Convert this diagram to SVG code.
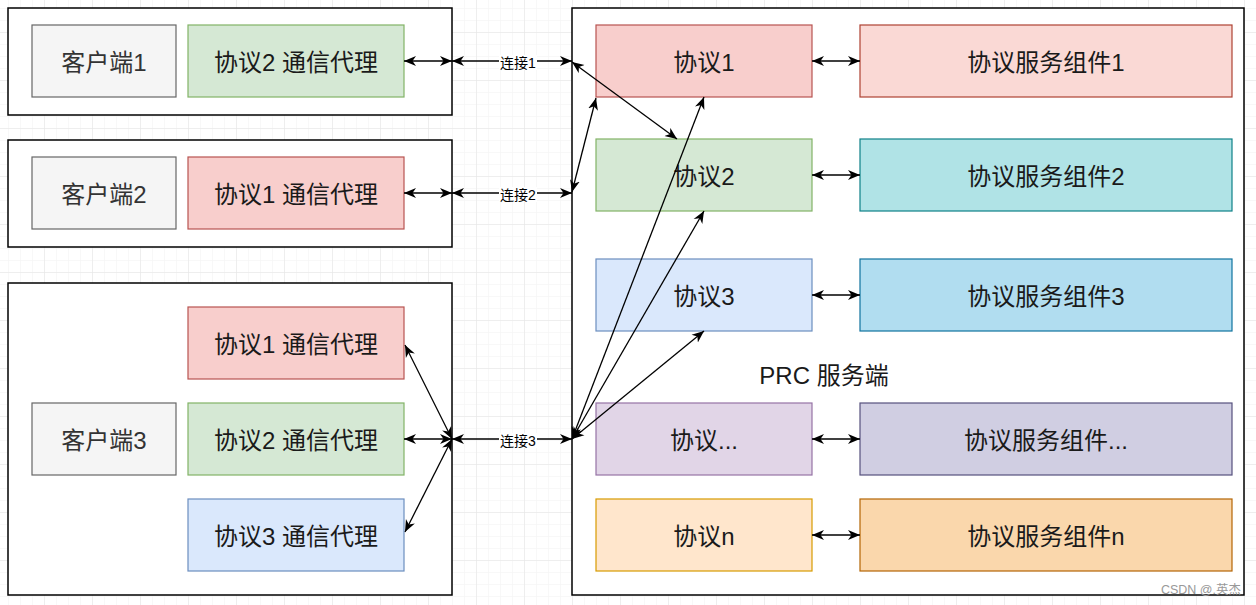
<svg xmlns="http://www.w3.org/2000/svg" width="1256" height="605" viewBox="0 0 1256 605">
<style>
text{font-family:"Liberation Sans","Noto Sans CJK SC",sans-serif;}
.t{font-size:24px;fill:#1a1a1a;text-anchor:middle;}
.tc{font-size:24px;fill:#333333;text-anchor:middle;}
.lb{font-size:14px;fill:#000;text-anchor:middle;}
.cont{fill:#ffffff;stroke:#000000;stroke-width:1.5;}
.cl{fill:#f5f5f5;stroke:#666666;stroke-width:1.2;}
.c{fill:none;stroke:#000000;stroke-width:1.3;marker-start:url(#ah);marker-end:url(#ah);}
</style>
<defs>
<pattern id="gmin" width="12" height="12" patternUnits="userSpaceOnUse" x="8" y="8">
<path d="M0,0 H12 M0,0 V12" fill="none" stroke="#f2f2f2" stroke-width="1"/>
</pattern>
<pattern id="gmaj" width="48" height="48" patternUnits="userSpaceOnUse" x="44" y="32">
<path d="M0,0 H48 M0,0 V48" fill="none" stroke="#e3e3e3" stroke-width="1"/>
</pattern>
<marker id="ah" viewBox="0 0 12 12" refX="12" refY="6" markerWidth="12" markerHeight="12" markerUnits="userSpaceOnUse" orient="auto-start-reverse">
<path d="M0,1 L12,6 L0,11 L3.5,6 Z" fill="#000000"/>
</marker>
</defs>
<rect width="1256" height="605" fill="#ffffff"/>
<rect width="1256" height="605" fill="url(#gmin)"/>
<rect width="1256" height="605" fill="url(#gmaj)"/>

<g id="client-box-1">
<rect class="cont" x="8" y="8" width="444" height="107"/>
</g>
<g id="client-box-2">
<rect class="cont" x="8" y="140" width="444" height="107"/>
</g>
<g id="client-box-3">
<rect class="cont" x="8" y="283" width="444" height="312"/>
</g>
<g id="server-box">
<rect class="cont" x="572" y="8" width="672" height="587"/>
<text x="824" y="384" style="font-size:24px;fill:#1a1a1a;text-anchor:middle;">PRC 服务端</text>
</g>

<g id="client1">
<rect class="cl" x="32" y="25" width="144" height="72"/>
<text class="tc" x="104" y="71">客户端1</text>
</g>
<g id="agent1">
<rect x="188" y="25" width="216" height="72" fill="#d5e8d4" stroke="#82b366" stroke-width="1.2"/>
<text class="t" x="296" y="71">协议2 通信代理</text>
</g>
<g id="client2">
<rect class="cl" x="32" y="157" width="144" height="72"/>
<text class="tc" x="104" y="203">客户端2</text>
</g>
<g id="agent2">
<rect x="188" y="157" width="216" height="72" fill="#f8cecc" stroke="#b85450" stroke-width="1.2"/>
<text class="t" x="296" y="203">协议1 通信代理</text>
</g>
<g id="client3">
<rect class="cl" x="32" y="403" width="144" height="72"/>
<text class="tc" x="104" y="449">客户端3</text>
</g>
<g id="agent3a">
<rect x="188" y="307" width="216" height="72" fill="#f8cecc" stroke="#b85450" stroke-width="1.2"/>
<text class="t" x="296" y="353">协议1 通信代理</text>
</g>
<g id="agent3b">
<rect x="188" y="403" width="216" height="72" fill="#d5e8d4" stroke="#82b366" stroke-width="1.2"/>
<text class="t" x="296" y="449">协议2 通信代理</text>
</g>
<g id="agent3c">
<rect x="188" y="499" width="216" height="72" fill="#dae8fc" stroke="#6c8ebf" stroke-width="1.2"/>
<text class="t" x="296" y="545">协议3 通信代理</text>
</g>

<g id="proto1">
<rect x="596" y="25" width="216" height="72" fill="#f8cecc" stroke="#b85450" stroke-width="1.2"/>
<text class="t" x="704" y="71">协议1</text>
</g>
<g id="proto2">
<rect x="596" y="139" width="216" height="72" fill="#d5e8d4" stroke="#82b366" stroke-width="1.2"/>
<text class="t" x="704" y="185">协议2</text>
</g>
<g id="proto3">
<rect x="596" y="259" width="216" height="72" fill="#dae8fc" stroke="#6c8ebf" stroke-width="1.2"/>
<text class="t" x="704" y="305">协议3</text>
</g>
<g id="proto-etc">
<rect x="596" y="403" width="216" height="72" fill="#e1d5e7" stroke="#9673a6" stroke-width="1.2"/>
<text class="t" x="704" y="449">协议...</text>
</g>
<g id="proto-n">
<rect x="596" y="499" width="216" height="72" fill="#ffe6cc" stroke="#d79b00" stroke-width="1.2"/>
<text class="t" x="704" y="545">协议n</text>
</g>

<g id="svc1">
<rect x="860" y="25" width="372" height="72" fill="#fad9d5" stroke="#ae4132" stroke-width="1.2"/>
<text class="t" x="1046" y="71">协议服务组件1</text>
</g>
<g id="svc2">
<rect x="860" y="139" width="372" height="72" fill="#b0e3e6" stroke="#0e8088" stroke-width="1.2"/>
<text class="t" x="1046" y="185">协议服务组件2</text>
</g>
<g id="svc3">
<rect x="860" y="259" width="372" height="72" fill="#b1ddf0" stroke="#10739e" stroke-width="1.2"/>
<text class="t" x="1046" y="305">协议服务组件3</text>
</g>
<g id="svc-etc">
<rect x="860" y="403" width="372" height="72" fill="#d0cee2" stroke="#56517e" stroke-width="1.2"/>
<text class="t" x="1046" y="449">协议服务组件...</text>
</g>
<g id="svc-n">
<rect x="860" y="499" width="372" height="72" fill="#fad7ac" stroke="#b46504" stroke-width="1.2"/>
<text class="t" x="1046" y="545">协议服务组件n</text>
</g>

<g id="connectors">
<path class="c" d="M404,61 L452,61"/>
<path class="c" d="M452,61 L572,61"/>
<path class="c" d="M404,193 L452,193"/>
<path class="c" d="M452,193 L572,193"/>
<path class="c" d="M404,439 L452,439"/>
<path class="c" d="M452,439 L572,439"/>
<path class="c" d="M452,439 L405,345"/>
<path class="c" d="M452,439 L405,532"/>
<path class="c" d="M572,62 L677,139"/>
<path class="c" d="M572,192 L596,98"/>
<path class="c" d="M572,439 L704,97"/>
<path class="c" d="M572,439 L704,211"/>
<path class="c" d="M572,439 L704,331"/>
<path class="c" d="M812,61 L860,61"/>
<path class="c" d="M812,175 L860,175"/>
<path class="c" d="M812,295 L860,295"/>
<path class="c" d="M812,439 L860,439"/>
<path class="c" d="M812,535 L860,535"/>
<rect x="499" y="55" width="38" height="15" fill="#ffffff"/>
<text class="lb" x="518" y="68">连接1</text>
<rect x="499" y="187" width="38" height="15" fill="#ffffff"/>
<text class="lb" x="518" y="200">连接2</text>
<rect x="499" y="433" width="38" height="15" fill="#ffffff"/>
<text class="lb" x="518" y="446">连接3</text>
</g>

<text x="1241" y="594" style="font-size:12.5px;fill:#999999;text-anchor:end;">CSDN @.英杰</text>
</svg>
